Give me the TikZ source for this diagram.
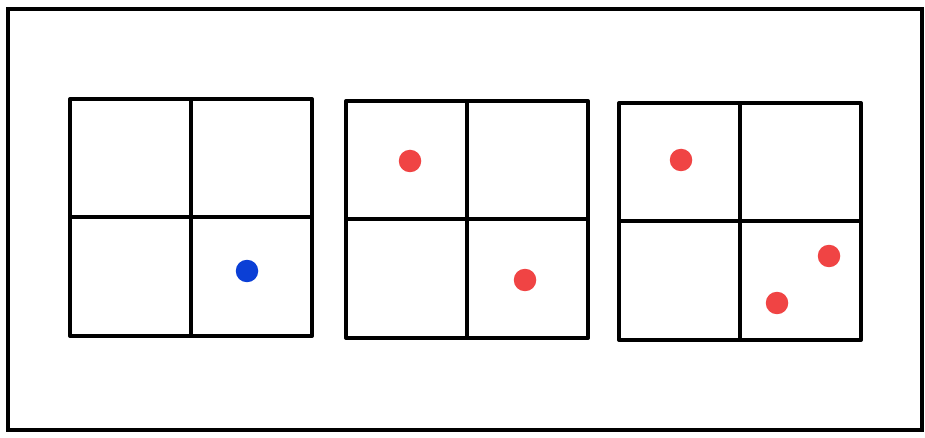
\documentclass[tikz,border=0pt]{standalone}
\usepackage{tikz}
\usetikzlibrary{positioning}
\definecolor{dotblue}{HTML}{0B3FD6}
\definecolor{dotred}{HTML}{F04444}
\tikzset{
  frame/.style={line width=2pt, black},
  cell/.style={line width=2.3pt, black, line join=round},
  counter/.style={circle, inner sep=0pt, minimum size=0.45cm}
}

\begin{document}
\begin{tikzpicture}[x=0.02cm, y=-0.02cm]
  \useasboundingbox (0,0) rectangle (925,438);
  % outer card
  \draw[frame] (8,9) rectangle (922,430);
  % three 2x2 boards
  \foreach \gx/\gy/\name in {70/99/left, 346/101/mid, 619/103/right} {
    \draw[cell] (\gx,\gy) rectangle ++(242,237);
    \draw[cell] (\gx+121,\gy) -- ++(0,237);
    \draw[cell] (\gx,\gy+118) -- ++(242,0);
  }
  % counters
  \node[counter, fill=dotblue] (b1) at (247,271) {};
  \node[counter, fill=dotred] (r1) at (410,161) {};
  \node[counter, fill=dotred] (r2) at (525,280) {};
  \node[counter, fill=dotred] (r3) at (681,160) {};
  \node[counter, fill=dotred] (r4) at (829,256) {};
  \node[counter, fill=dotred] (r5) at (777,303) {};
\end{tikzpicture}
\end{document}
